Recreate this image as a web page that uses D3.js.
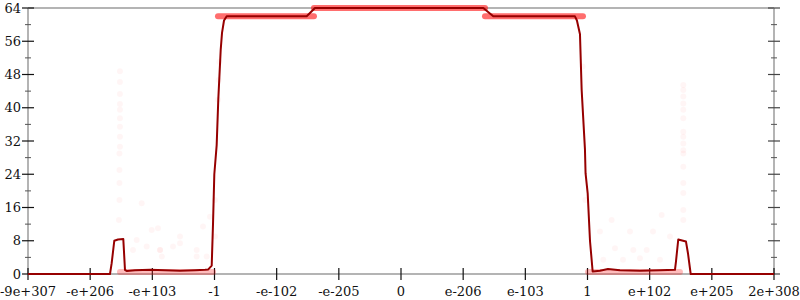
<!DOCTYPE html>
<html>
<head>
    <script src="https://cdnjs.cloudflare.com/ajax/libs/d3/7.8.5/d3.min.js"></script>
    <style>
        body { margin: 0; background: #fff; }
    </style>
</head>
<body>
<script>
    // x is measured in "tick slots": tick i sits at u = i
    const xTickLabels = ['-9e+307', '-e+206', '-e+103', '-1', '-e-102', '-e-205', '0',
        'e-206', 'e-103', '1', 'e+102', 'e+205', '2e+308'];
    const yTicks = [0, 8, 16, 24, 32, 40, 48, 56, 64];
    const yMinorTicks = [4, 12, 20, 28, 36, 44, 52, 60];

    // average error line
    const lineU = [0, 1.319, 1.346, 1.388, 1.448, 1.533, 1.560, 1.592, 1.721, 1.963, 2.204, 2.445,
        2.686, 2.847, 2.900, 2.955, 2.976, 2.997, 3.035, 3.061, 3.100, 3.121, 3.153, 3.196, 4.483,
        4.616, 7.324, 7.484, 8.798, 8.830, 8.879, 8.906, 8.959, 8.969, 9.003, 9.040, 9.083, 9.200,
        9.329, 9.522, 9.844, 10.166, 10.407, 10.423, 10.460, 10.584, 10.616, 10.660, 12];
    const lineErr = [0, 0, 2.6, 8.0, 8.3, 8.4, 1.0, 0.7, 0.9, 1.0, 0.9, 0.8,
        0.9, 1.0, 1.1, 2, 12, 24, 31, 42, 54, 58, 61, 62, 62,
        64, 64, 62, 62, 61, 57.7, 44.3, 30, 24.2, 19.4, 8, 0.6, 0.8,
        1.2, 0.9, 0.8, 0.9, 1.0, 3, 8.3, 7.8, 5, 0, 0];

    // dense bands of sample points: [from u, to u, error]
    const bandFrom = [3.056, 4.600, 7.351, 1.480, 9.008];
    const bandTo = [4.600, 7.351, 8.927, 2.976, 10.487];
    const bandErr = [62, 64, 62, 0.5, 0.5];

    // sparse sample points
    const ptU = [1.479, 1.479, 1.479, 1.479, 1.479, 1.479, 1.479, 1.479, 1.479, 1.471, 1.471, 1.471, 1.471, 1.463,
        1.829, 1.990, 2.091, 2.333, 1.689, 2.153, 2.124, 2.445, 2.713, 2.815, 2.874, 1.748, 1.909, 2.124,
        2.445, 2.713, 2.928, 3.008, 3.008, 3.077, 3.067, 3.056,
        9.388, 9.684, 10.193, 10.054, 9.200, 9.442, 9.737, 9.952, 9.254, 9.571, 9.844, 10.166, 10.327,
        10.541, 10.541, 10.541, 10.541, 10.541, 10.541, 10.541, 10.541, 10.541, 10.541, 10.541, 10.541,
        10.541, 10.541, 10.541, 10.541, 8.922, 8.964];
    const ptErr = [48.8, 46.2, 43.3, 40.9, 39.5, 37.5, 35.4, 33, 30.6, 29, 25, 21.9, 17.8, 13,
        17, 10.6, 11, 6.6, 5.8, 4.2, 5.8, 9, 5.8, 11.4, 4.2, 8.2, 6.6, 5.8,
        7.4, 4.2, 13.8, 17.8, 9, 51, 46.7, 41.9,
        13, 10.2, 14.2, 10.2, 10.2, 6.2, 5.8, 5.8, 3.4, 3.4, 3.8, 3.4, 9,
        45.5, 44.3, 42.7, 41, 39.5, 37.5, 34.2, 33, 31.4, 29.8, 29, 25.8,
        21.9, 19.5, 15.4, 13, 49.9, 17.8];

    const width = 800;
    const height = 300;
    const margin = { top: 8, right: 26, bottom: 26, left: 28 };

    const x = d3.scaleLinear().domain([0, 12]).range([margin.left, width - margin.right]);
    const y = d3.scaleLinear().domain([0, 64]).range([height - margin.bottom, margin.top]);

    const svg = d3.select('body').append('svg')
        .attr('width', width)
        .attr('height', height)
        .attr('font-family', 'DejaVu Serif')
        .attr('font-size', 13);

    // frame
    svg.append('line')
        .attr('x1', x(0)).attr('x2', x(12))
        .attr('y1', y(64)).attr('y2', y(64))
        .style('stroke', '#b4b4b4').style('stroke-width', 2);

    const axisLines = [[x(0), y(0), x(0), y(64)], [x(12), y(0), x(12), y(64)], [x(0), y(0), x(12), y(0)]];
    svg.selectAll('.axisline')
        .data(axisLines)
        .enter().append('line')
        .attr('class', 'axisline')
        .attr('x1', d => d[0]).attr('y1', d => d[1])
        .attr('x2', d => d[2]).attr('y2', d => d[3])
        .style('stroke', '#b4b4b4').style('stroke-width', 2);

    // y ticks, both sides
    [x(0), x(12)].forEach((px, side) => {
        svg.selectAll(null)
            .data(yTicks)
            .enter().append('line')
            .attr('x1', px - 6).attr('x2', px + 6)
            .attr('y1', d => y(d)).attr('y2', d => y(d))
            .style('stroke', side ? '#444' : '#111').style('stroke-width', 1.2);
        svg.selectAll(null)
            .data(yMinorTicks)
            .enter().append('line')
            .attr('x1', px - 3).attr('x2', px + 3)
            .attr('y1', d => y(d)).attr('y2', d => y(d))
            .style('stroke', '#555').style('stroke-width', 1);
    });

    svg.selectAll('.ylabel')
        .data(yTicks)
        .enter().append('text')
        .attr('class', 'ylabel')
        .attr('x', x(0) - 7)
        .attr('y', d => y(d))
        .attr('dy', '0.35em')
        .attr('text-anchor', 'end')
        .style('fill', '#111')
        .text(d => d);

    // x ticks
    svg.selectAll('.xtick')
        .data(d3.range(xTickLabels.length))
        .enter().append('line')
        .attr('class', 'xtick')
        .attr('x1', d => x(d)).attr('x2', d => x(d))
        .attr('y1', y(0) - 6).attr('y2', y(0) + 6)
        .style('stroke', '#111').style('stroke-width', 1.2);

    svg.selectAll('.xlabel')
        .data(d3.range(xTickLabels.length))
        .enter().append('text')
        .attr('class', 'xlabel')
        .attr('x', d => x(d))
        .attr('y', y(0) + 22)
        .attr('text-anchor', 'middle')
        .style('fill', '#111')
        .text(d => xTickLabels[d]);

    // sample points
    svg.selectAll('.pt')
        .data(ptU.map((u, i) => [u, ptErr[i]]))
        .enter().append('circle')
        .attr('class', 'pt')
        .attr('cx', d => x(d[0]))
        .attr('cy', d => y(d[1]))
        .attr('r', 3)
        .style('fill', 'red')
        .style('fill-opacity', 0.04);

    svg.selectAll('.band')
        .data(bandFrom.map((u, i) => [u, bandTo[i], bandErr[i]]))
        .enter().append('line')
        .attr('class', 'band')
        .attr('x1', d => x(d[0])).attr('x2', d => x(d[1]))
        .attr('y1', d => y(d[2])).attr('y2', d => y(d[2]))
        .style('stroke', '#ff2020')
        .style('stroke-opacity', (d, i) => i < 3 ? 0.65 : 0.3)
        .style('stroke-width', 6)
        .style('stroke-linecap', 'round');

    // error line
    const line = d3.line()
        .x(d => x(d[0]))
        .y(d => y(d[1]));

    svg.append('path')
        .datum(lineU.map((u, i) => [u, lineErr[i]]))
        .attr('d', line)
        .style('fill', 'none')
        .style('stroke', '#960000')
        .style('stroke-width', 2)
        .style('stroke-linejoin', 'round');
</script>
</body>
</html>
